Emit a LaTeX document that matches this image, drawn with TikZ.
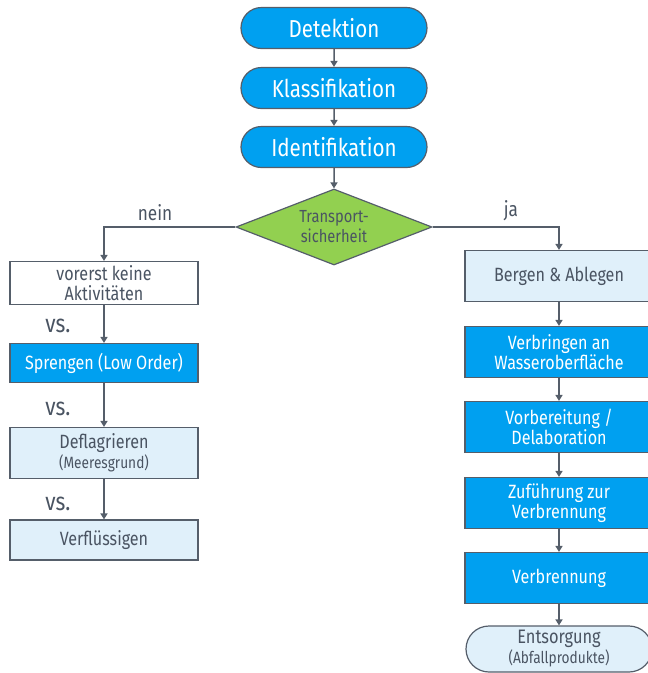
\documentclass[tikz,border=0pt]{standalone}
\usepackage{fontspec}
\setmainfont{Fira Sans}[FakeStretch=0.84]
\usetikzlibrary{shapes.geometric,shapes.misc,arrows.meta}
\definecolor{cblue}{RGB}{0,160,240}
\definecolor{clight}{RGB}{224,240,250}
\definecolor{cgreen}{RGB}{146,208,80}
\definecolor{cline}{RGB}{85,94,106}
\definecolor{ctext}{RGB}{74,84,98}
\begin{document}
\begin{tikzpicture}[x=1pt,y=-1pt,
  base/.style={draw=cline,line width=1.2pt,align=center,inner sep=0pt},
  stad/.style={base,rounded rectangle,minimum width=186pt,minimum height=41pt,fill=cblue,text=white,font=\fontsize{24.5}{26}\selectfont},
  boxw/.style={base,rectangle,minimum width=188pt,fill=white,text=ctext,font=\fontsize{19.2}{20}\selectfont},
  boxl/.style={boxw,fill=clight},
  boxb/.style={boxw,fill=cblue,text=white},
  dec/.style={base,diamond,fill=cgreen,text=ctext,font=\fontsize{17.5}{20}\selectfont,minimum width=196pt,minimum height=76pt,aspect=2.58},
  lab/.style={text=ctext,font=\fontsize{20.5}{22}\selectfont,inner sep=0pt},
  arr/.style={draw=cline,line width=1.5pt,-{Triangle[length=6pt,width=7pt]}}
]
\useasboundingbox (0,0) rectangle (648,673);
\node[stad] (det) at (334,28) {Detektion};
\node[stad] (kla) at (334,88) {Klassifikation};
\node[stad] (ide) at (334,147) {Identifikation};
\node[dec] (ts) at (334,227) {Transport-\\sicherheit};
% left
\node[boxw,minimum height=43pt] (vk) at (104,283) {vorerst keine\\Aktivitäten};
\node[boxb,minimum height=39pt] (sp) at (104,363) {Sprengen (Low Order)};
\node[boxl,minimum height=51pt] (df) at (104,453) {Deflagrieren\\{\fontsize{16.3}{20}\selectfont(Meeresgrund)}};
\node[boxl,minimum height=40pt] (vf) at (104,540) {Verflüssigen};
% right
\node[boxl,minimum height=51pt] (ba) at (559,276) {Bergen \& Ablegen};
\node[boxb,minimum height=51pt] (vw) at (559,352) {Verbringen an\\Wasseroberfläche};
\node[boxb,minimum height=51pt] (vd) at (559,427) {Vorbereitung /\\Delaboration};
\node[boxb,minimum height=51pt] (zv) at (559,503) {Zuführung zur\\Verbrennung};
\node[boxb,minimum height=51pt] (vb) at (559,578) {Verbrennung};
\node[stad,fill=clight,text=ctext,minimum height=46pt,font=\fontsize{19.5}{20}\selectfont] (en) at (559,649) {Entsorgung\\{\fontsize{16.3}{19}\selectfont(Abfallprodukte)}};
% labels
\node[lab] (nein) at (155,213) {nein};
\node[lab] (ja) at (511,211) {ja};
\node[lab,font=\fontsize{25}{26}\selectfont] (vs1) at (58,326) {vs.};
\node[lab,font=\fontsize{25}{26}\selectfont] (vs2) at (58,409) {vs.};
\node[lab,font=\fontsize{25}{26}\selectfont] (vs3) at (58,504) {vs.};
% arrows
\draw[arr] (det) -- (kla);
\draw[arr] (kla) -- (ide);
\draw[arr] (ide) -- (ts);
\draw[arr] (ts.west) -| (vk.north);
\draw[arr] (ts.east) -| (ba.north);
\draw[arr] (vk) -- (sp);
\draw[arr] (sp) -- (df);
\draw[arr] (df) -- (vf);
\draw[arr] (ba) -- (vw);
\draw[arr] (vw) -- (vd);
\draw[arr] (vd) -- (zv);
\draw[arr] (zv) -- (vb);
\draw[arr] (vb) -- (en);
\end{tikzpicture}
\end{document}
